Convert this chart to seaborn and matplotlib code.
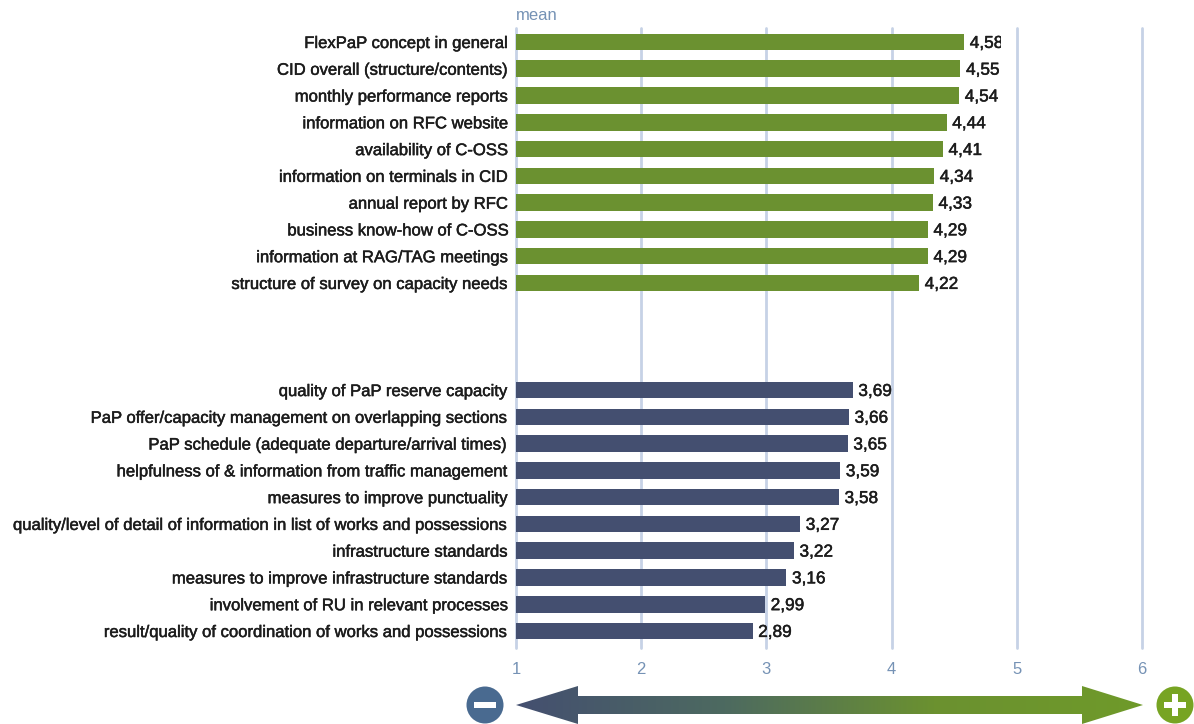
import numpy as np
import pandas as pd
import seaborn as sns
import matplotlib
matplotlib.use("Agg")
import matplotlib.pyplot as plt
import matplotlib.patheffects as pe
from matplotlib.colors import LinearSegmentedColormap
from matplotlib.patches import Polygon, Circle, Rectangle

strengths = [
    "FlexPaP concept in general",
    "CID overall (structure/contents)",
    "monthly performance reports",
    "information on RFC website",
    "availability of C-OSS",
    "information on terminals in CID",
    "annual report by RFC",
    "business know-how of C-OSS",
    "information at RAG/TAG meetings",
    "structure of survey on capacity needs",
]
strength_means = [4.58, 4.55, 4.54, 4.44, 4.41, 4.34, 4.33, 4.29, 4.29, 4.22]

weaknesses = [
    "quality of PaP reserve capacity",
    "PaP offer/capacity management on overlapping sections",
    "PaP schedule (adequate departure/arrival times)",
    "helpfulness of & information from traffic management",
    "measures to improve punctuality",
    "quality/level of detail of information in list of works and possessions",
    "infrastructure standards",
    "measures to improve infrastructure standards",
    "involvement of RU in relevant processes",
    "result/quality of coordination of works and possessions",
]
weakness_means = [3.69, 3.66, 3.65, 3.59, 3.58, 3.27, 3.22, 3.16, 2.99, 2.89]

spacers = [" ", "  ", "   "]
scale_ticks = [1, 2, 3, 4, 5, 6]

GREEN = "#6b9130"
NAVY = "#444f70"
GRID = "#c6d2e6"
AXIS_TEXT = "#7592b5"
LABEL = "#1c1c1c"
W, H = 1194, 724
HEAVIER = [pe.withStroke(linewidth=0.35, foreground=LABEL)]

sns.set_theme(style="white")
plt.rcParams["font.family"] = ["Liberation Sans", "DejaVu Sans"]

df = pd.DataFrame({
    "item": strengths + weaknesses,
    "mean": strength_means + weakness_means,
    "group": ["high"] * len(strengths) + ["low"] * len(weaknesses),
})
order = strengths + spacers + weaknesses

fig = plt.figure(figsize=(W / 100, H / 100), dpi=100, facecolor="white")
ax = fig.add_axes([516 / W, 1 - 648 / H, (1142 - 516) / W, (648 - 28) / H])

sns.barplot(
    data=df, y="item", x="mean", hue="group", order=order, orient="y",
    palette={"high": GREEN, "low": NAVY}, width=0.62, dodge=False,
    saturation=1, linewidth=0, legend=False, ax=ax,
)

ax.set_xlim(1, 6)
ax.set_ylim(22.635, -0.523)
ax.set_xlabel("")
ax.set_ylabel("")
ax.set_axisbelow(True)
ax.set_xticks(scale_ticks)
ax.set_xticklabels([str(t) for t in scale_ticks])
ax.xaxis.grid(True, color=GRID, lw=2)
ax.yaxis.grid(False)
for gridline in ax.get_xgridlines():
    gridline.set_clip_on(False)
sns.despine(ax=ax, left=True, bottom=True)
ax.tick_params(axis="x", length=0, pad=10, labelsize=12, labelcolor=AXIS_TEXT)
ax.tick_params(axis="y", length=0, pad=5.5, labelsize=12, labelcolor=LABEL)
for tick_label in ax.get_yticklabels():
    tick_label.set_path_effects(HEAVIER)

# Value labels use a decimal comma
for container, values in zip(ax.containers, [strength_means, weakness_means]):
    texts = ax.bar_label(
        container,
        labels=[f"{v:.2f}".replace(".", ",") for v in values],
        padding=4, fontsize=12.4, color=LABEL,
    )
    for t in texts:
        t.xyann = (t.xyann[0], t.xyann[1] - 1.0)
        t.set_path_effects(HEAVIER)
    if values is strength_means:
        # The top label is cut off by the panel edge
        texts[0].set_clip_path(Rectangle((0, 0), 1001, H, transform=None))
        texts[0].set_clip_on(True)

fig.text(516 / W, 1 - 15 / H, "mean", color=AXIS_TEXT, fontsize=12, ha="left", va="center")

# Overlay in pixel units for the gradient scale arrow and end badges
ov = fig.add_axes([0, 0, 1, 1], facecolor="none")
ov.set_xlim(0, W)
ov.set_ylim(H, 0)
ov.axis("off")

cy = 705
arrow = Polygon(
    [(516, cy), (578, cy - 19), (578, cy - 9), (1082, cy - 9), (1082, cy - 19),
     (1143, cy), (1082, cy + 19), (1082, cy + 9), (578, cy + 9), (578, cy + 19)],
    closed=True, facecolor="none", edgecolor="none",
)
ov.add_patch(arrow)
gradient = LinearSegmentedColormap.from_list("scale", [NAVY, "#4d6a60", GREEN, "#6f9a2a"])
img = ov.imshow(np.linspace(0, 1, 256)[None, :], cmap=gradient, aspect="auto",
                extent=(516, 1143, cy + 19, cy - 19), zorder=2)
img.set_clip_path(arrow)
ov.set_xlim(0, W)
ov.set_ylim(H, 0)

ov.add_patch(Circle((485, cy), 18.5, facecolor="#496a90", edgecolor="none", zorder=3))
ov.add_patch(Rectangle((474, cy - 3), 22, 6, facecolor="white", edgecolor="none", zorder=4))
ov.add_patch(Circle((1175, cy), 18.5, facecolor="#77a423", edgecolor="none", zorder=3))
ov.add_patch(Rectangle((1164, cy - 3), 22, 6, facecolor="white", edgecolor="none", zorder=4))
ov.add_patch(Rectangle((1172, cy - 11), 6, 22, facecolor="white", edgecolor="none", zorder=4))

fig.savefig("out.png", dpi=100)
